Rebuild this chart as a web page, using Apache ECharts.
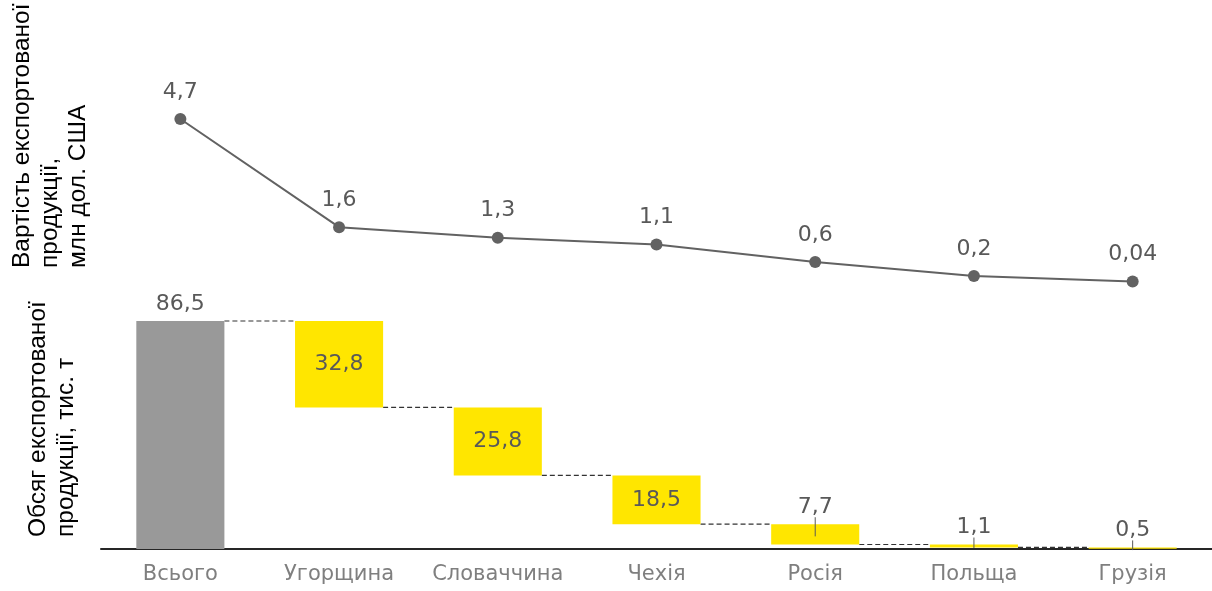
<!DOCTYPE html>
<html>
<head>
<meta charset="utf-8">
<script src="https://cdn.jsdelivr.net/npm/echarts@6/dist/echarts.min.js"></script>
<style>
  html, body { margin: 0; padding: 0; background: #fff; }
  #chart { width: 1212px; height: 591px; }
</style>
</head>
<body>
<div id="chart"></div>
<script>
const categories = ["Всього", "Угорщина", "Словаччина", "Чехія", "Росія", "Польща", "Грузія"];
const valueUsd = [4.7, 1.6, 1.3, 1.1, 0.6, 0.2, 0.04];
const volume = [86.5, 32.8, 25.8, 18.5, 7.7, 1.1, 0.5];
const usdLabels = ["4,7", "1,6", "1,3", "1,1", "0,6", "0,2", "0,04"];
const volumeLabels = ["86,5", "32,8", "25,8", "18,5", "7,7", "1,1", "0,5"];

// waterfall base: first bar starts at 0, the rest hang from the running total
const base = volume.map((v, i) => {
  if (i === 0) return 0;
  let rest = volume[0];
  for (let k = 1; k <= i; k++) rest -= volume[k];
  return +rest.toFixed(2);
});
const tops = volume.map((v, i) => +(base[i] + v).toFixed(2));

const BAR_RATIO = 0.555;
const labelFont = "DejaVu Sans";

const chart = echarts.init(document.getElementById("chart"));

chart.setOption({
  backgroundColor: "#fff",
  animation: false,
  grid: [
    { left: 101, width: 1111, top: 119, height: 164 },
    { left: 101, width: 1111, top: 321, height: 228 },
  ],
  xAxis: [
    { type: "category", gridIndex: 0, data: categories, show: false },
    {
      type: "category",
      gridIndex: 1,
      data: categories,
      axisLine: { lineStyle: { color: "#262626", width: 2 } },
      axisTick: { show: false },
      axisLabel: {
        interval: 0,
        color: "#7f7f7f",
        fontFamily: labelFont,
        fontSize: 21,
        margin: 15,
      },
    },
  ],
  yAxis: [
    { type: "value", gridIndex: 0, min: 0, max: 4.7, show: false },
    { type: "value", gridIndex: 1, min: 0, max: 86.5, show: false },
  ],
  graphic: [
    {
      type: "text",
      x: 8,
      y: 268,
      rotation: Math.PI / 2,
      style: {
        text: "Вартість експортованої\nпродукції,\nмлн дол. США",
        font: "24.5px 'Liberation Sans'",
        fill: "#000",
        align: "left",
        verticalAlign: "top",
        lineHeight: 28,
      },
    },
    {
      type: "text",
      x: 24,
      y: 537,
      rotation: Math.PI / 2,
      style: {
        text: "Обсяг експортованої\nпродукції, тис. т",
        font: "24.5px 'Liberation Sans'",
        fill: "#000",
        align: "left",
        verticalAlign: "top",
        lineHeight: 28,
      },
    },
  ],
  series: [
    {
      name: "usd",
      type: "line",
      xAxisIndex: 0,
      yAxisIndex: 0,
      data: valueUsd,
      symbol: "circle",
      symbolSize: 12,
      lineStyle: { color: "#626262", width: 2 },
      itemStyle: { color: "#626262" },
      label: {
        show: true,
        position: "top",
        distance: 10,
        color: "#595959",
        fontFamily: labelFont,
        fontSize: 22,
        formatter: (p) => usdLabels[p.dataIndex],
      },
    },
    {
      name: "base",
      type: "bar",
      xAxisIndex: 1,
      yAxisIndex: 1,
      stack: "wf",
      barWidth: BAR_RATIO * 100 + "%",
      itemStyle: { color: "transparent" },
      silent: true,
      data: base,
    },
    {
      name: "volume",
      type: "bar",
      xAxisIndex: 1,
      yAxisIndex: 1,
      stack: "wf",
      barWidth: BAR_RATIO * 100 + "%",
      data: volume.map((v, i) => ({
        value: v,
        itemStyle: { color: i === 0 ? "#999999" : "#ffe600" },
        label: {
          position: i >= 1 && i <= 3 ? "inside" : "top",
          distance: 6,
        },
      })),
      label: {
        show: true,
        color: "#595959",
        fontFamily: labelFont,
        fontSize: 22,
        formatter: (p) => volumeLabels[p.dataIndex],
      },
    },
    {
      // dashed connectors between bars
      name: "connectors",
      type: "custom",
      xAxisIndex: 1,
      yAxisIndex: 1,
      z: 1,
      data: base.slice(0, base.length - 1).map((b, i) => [i, i === 0 ? tops[0] : b]),
      renderItem: (params, api) => {
        const i = api.value(0);
        const level = api.value(1);
        const a = api.coord([i, level]);
        const b = api.coord([i + 1, level]);
        const half = (api.size([1, 0])[0] * BAR_RATIO) / 2;
        return {
          type: "line",
          shape: { x1: a[0] + half, y1: a[1], x2: b[0] - half, y2: b[1] },
          style: { stroke: "#333", lineWidth: 1.2, lineDash: [5, 3] },
        };
      },
    },
    {
      // small leader ticks under the labels of the thin bars
      name: "ticks",
      type: "custom",
      xAxisIndex: 1,
      yAxisIndex: 1,
      z: 5,
      data: [4, 5, 6].map((i) => [i, tops[i], base[i]]),
      renderItem: (params, api) => {
        const i = api.value(0);
        const top = api.coord([i, api.value(1)]);
        const mid = api.coord([i, (api.value(1) + api.value(2)) / 2]);
        return {
          type: "line",
          shape: { x1: top[0], y1: top[1] - 7, x2: mid[0], y2: mid[1] + 2 },
          style: { stroke: "#595959", lineWidth: 1 },
        };
      },
    },
  ],
});
</script>
</body>
</html>
